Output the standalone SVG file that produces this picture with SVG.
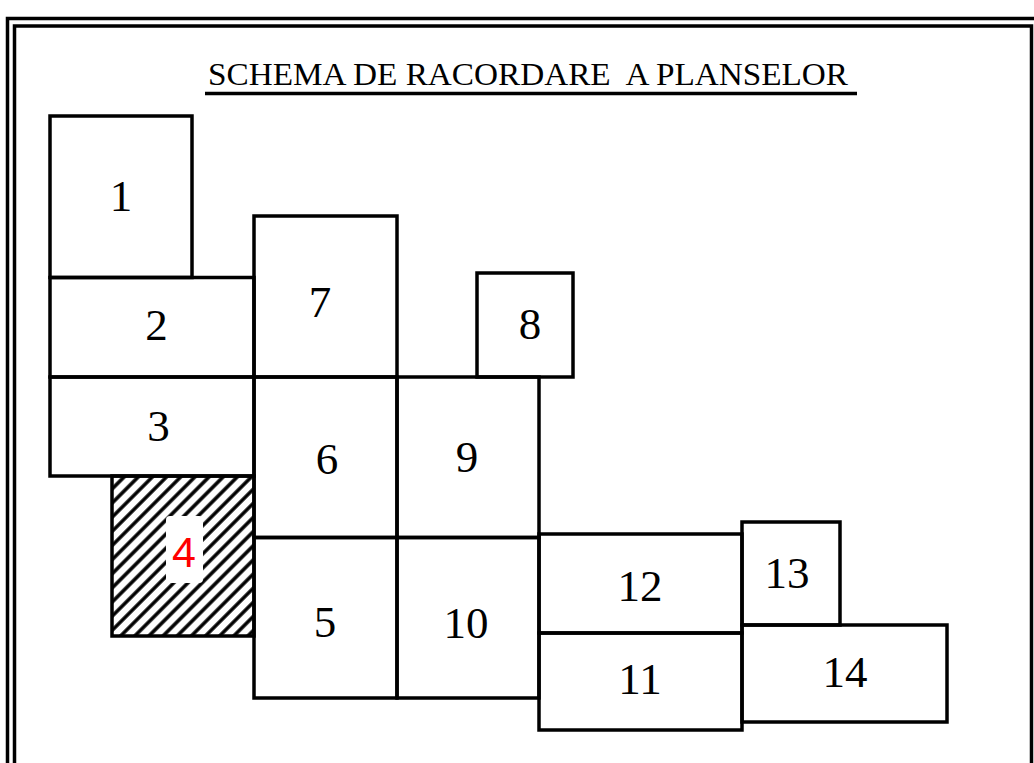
<svg xmlns="http://www.w3.org/2000/svg" width="1034" height="763" viewBox="0 0 1034 763">
<style>
.frame{fill:none;stroke:#000;stroke-width:3.5}
.box{fill:none;stroke:#000;stroke-width:3.5;stroke-linejoin:miter}
.num{font-family:"Liberation Serif","Times New Roman",serif;font-size:45px;fill:#000;text-anchor:middle}
.title{font-family:"Liberation Serif","Times New Roman",serif;font-size:32px;fill:#000}
.red{font-family:"Liberation Sans",Arial,sans-serif;font-size:43px;fill:#ff0000;text-anchor:middle}
</style>
<defs>
<pattern id="hatch" patternUnits="userSpaceOnUse" width="10" height="10" patternTransform="rotate(45)">
<line x1="5" y1="-1" x2="5" y2="11" stroke="#000" stroke-width="3.5"/>
</pattern>
</defs>
<rect width="1034" height="763" fill="#fff"/>
<g id="frame">
<rect class="frame" x="7.5" y="18.5" width="1040" height="760"/>
<rect class="frame" x="14.5" y="26" width="1017" height="760"/>
</g>
<g id="title">
<text class="title" x="208" y="85" textLength="640" lengthAdjust="spacingAndGlyphs" xml:space="preserve">SCHEMA DE RACORDARE  A PLANSELOR</text>
<line x1="205" y1="93.5" x2="857" y2="93.5" stroke="#000" stroke-width="3.5"/>
</g>
<g id="sheet1"><rect class="box" x="50" y="116" width="142" height="161.5"/><text class="num" x="121" y="211">1</text></g>
<g id="sheet2"><rect class="box" x="50" y="277.5" width="204" height="99.5"/><text class="num" x="156.5" y="340">2</text></g>
<g id="sheet3"><rect class="box" x="50" y="377" width="204" height="99"/><text class="num" x="158.5" y="441">3</text></g>
<g id="sheet4">
<rect x="112" y="476" width="142" height="160" fill="url(#hatch)"/>
<rect x="166" y="516" width="37" height="67" rx="4" fill="#fff"/>
<rect class="box" x="112" y="476" width="142" height="160"/>
<text class="red" x="184" y="567">4</text>
</g>
<g id="sheet5"><rect class="box" x="254" y="537.5" width="143" height="160.5"/><text class="num" x="325" y="637">5</text></g>
<g id="sheet6"><rect class="box" x="254" y="377" width="143" height="160.5"/><text class="num" x="327" y="474">6</text></g>
<g id="sheet7"><rect class="box" x="254" y="216" width="143" height="161"/><text class="num" x="320" y="317">7</text></g>
<g id="sheet8"><rect class="box" x="477" y="273" width="96" height="104"/><text class="num" x="530" y="339">8</text></g>
<g id="sheet9"><rect class="box" x="397" y="377" width="142" height="160.5"/><text class="num" x="467" y="472">9</text></g>
<g id="sheet10"><rect class="box" x="397" y="537.5" width="142" height="160.5"/><text class="num" x="466" y="638">10</text></g>
<g id="sheet11"><rect class="box" x="539" y="633" width="203" height="97"/><text class="num" x="640" y="694">11</text></g>
<g id="sheet12"><rect class="box" x="539" y="534" width="203" height="99"/><text class="num" x="640" y="601">12</text></g>
<g id="sheet13"><rect class="box" x="742" y="522" width="98" height="103"/><text class="num" x="787" y="588">13</text></g>
<g id="sheet14"><rect class="box" x="742" y="625" width="205" height="97"/><text class="num" x="845" y="687">14</text></g>
<g id="connectors"/>
</svg>
